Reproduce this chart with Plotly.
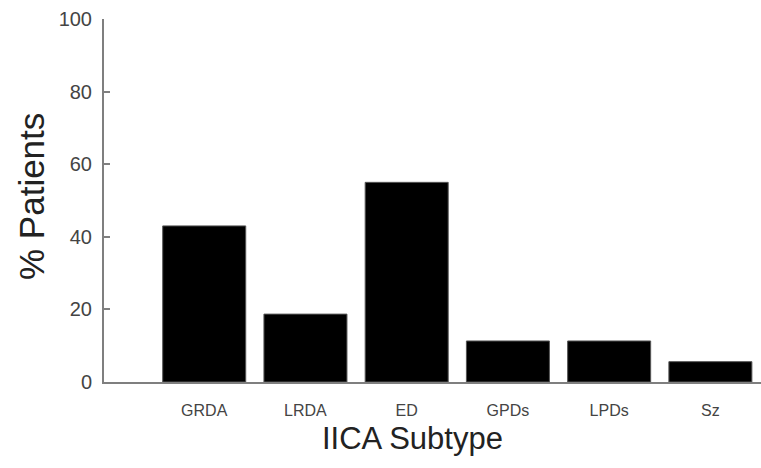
import plotly.graph_objects as go

categories = ["GRDA", "LRDA", "ED", "GPDs", "LPDs", "Sz"]
values = [43, 18.7, 55, 11.3, 11.3, 5.6]
y_ticks = [0, 20, 40, 60, 80, 100]

FONT = "Liberation Sans, Arial, sans-serif"

fig = go.Figure(go.Bar(
    x=categories, y=values,
    marker=dict(color="black", line=dict(color="#555555", width=1)),
    width=0.82,
))

fig.update_layout(
    width=761, height=468,
    margin=dict(l=104, r=0, t=19, b=86),
    paper_bgcolor="white", plot_bgcolor="white",
    showlegend=False,
    font=dict(family=FONT),
    xaxis=dict(
        range=[-0.99, 5.5],
        showline=True, linecolor="#7f7f7f", linewidth=2,
        ticks="outside", ticklen=13, tickcolor="rgba(0,0,0,0)",
        tickfont=dict(size=16, color="#444444"),
        showgrid=False, zeroline=False,
    ),
    yaxis=dict(
        range=[0, 100],
        tickvals=y_ticks,
        showline=True, linecolor="#7f7f7f", linewidth=2,
        ticks="inside", ticklen=6, tickcolor="#7f7f7f", tickwidth=1.5,
        tickfont=dict(size=20, color="#444444"),
        ticklabelstandoff=6,
        showgrid=False, zeroline=False,
    ),
    annotations=[
        dict(text="IICA Subtype", xref="paper", yref="paper",
             x=(412 - 104) / 657, y=-(438 - 382) / 363,
             xanchor="center", yanchor="middle", showarrow=False,
             font=dict(size=31, color="#222222", family=FONT)),
        dict(text="% Patients", xref="paper", yref="paper",
             x=-(104 - 32) / 657, y=(382 - 197) / 363,
             xanchor="center", yanchor="middle", showarrow=False, textangle=-90,
             font=dict(size=35, color="#222222", family=FONT)),
    ],
)

fig.write_html("out.html", config={"displayModeBar": False},
               post_script="document.body.style.margin='0px';document.body.style.padding='0px';")
